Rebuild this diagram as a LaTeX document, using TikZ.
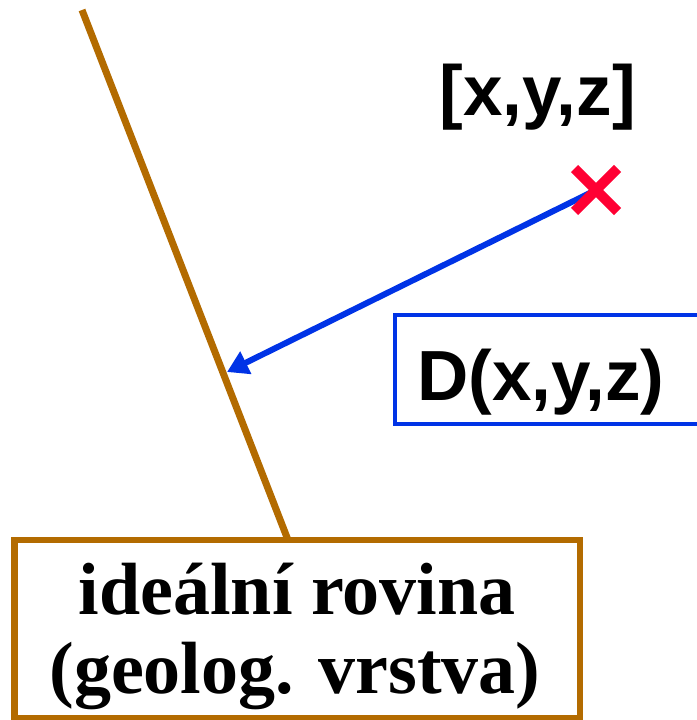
\documentclass[tikz,border=0pt]{standalone}
\usepackage{fontspec}
\setmainfont{Liberation Serif}
\newfontfamily\labelfont{Liberation Sans}
\usetikzlibrary{arrows.meta}
\definecolor{geobrown}{RGB}{179,107,0}
\definecolor{vecblue}{RGB}{0,51,230}
\definecolor{markred}{RGB}{255,0,51}
\tikzset{
  planeline/.style={draw=geobrown, line width=7pt},
  planebox/.style={draw=geobrown, line width=6.5pt, inner sep=0pt},
  distbox/.style={draw=vecblue, line width=4pt, inner sep=0pt},
  sanslabel/.style={inner sep=0pt, font=\labelfont\bfseries\fontsize{71}{80}\selectfont},
  seriflabel/.style={inner sep=0pt, font=\bfseries\fontsize{74}{79}\selectfont},
  distarrow/.style={draw=vecblue, line width=6pt, -{Triangle[length=21pt,width=24pt]}},
  crossline/.style={draw=markred, line width=10pt}
}
\begin{document}
\begin{tikzpicture}[x=1pt,y=-1pt]
\useasboundingbox (0,0) rectangle (696,720);
% plane line
\coordinate (ptop) at (82,10);
\coordinate (pfoot) at (288,540);
\draw[planeline] (ptop) -- (pfoot);
% plane box
\node[planebox, minimum width=565.5pt, minimum height=178pt] (plane) at (297.25,629) {};
\node[seriflabel, anchor=base] (t1) at (297,614) {ideální rovina};
\node[seriflabel, anchor=base] (t2) at (295,693) {(geolog. vrstva)};
% distance box
\node[distbox, minimum width=310pt, minimum height=109pt] (dbox) at (550,369.5) {};
\node[sanslabel, anchor=base west] (dlabel) at (417,400) {D(x,y,z)};
% point label
\node[sanslabel, anchor=base west] (plabel) at (439.5,115) {[x,y,z]};
% arrow
\coordinate (P) at (596,190);
\coordinate (foot) at (227,372);
\draw[distarrow] (P) -- (foot);
% cross
\coordinate (c1) at (574.5,168.5);
\coordinate (c2) at (617.5,211.5);
\coordinate (c3) at (574.5,211.5);
\coordinate (c4) at (617.5,168.5);
\draw[crossline] (c1) -- (c2);
\draw[crossline] (c3) -- (c4);
\end{tikzpicture}
\end{document}
